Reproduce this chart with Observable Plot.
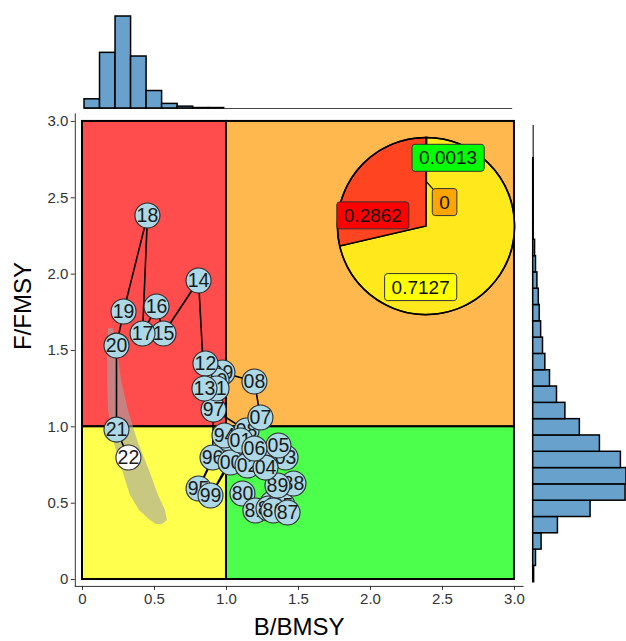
<!DOCTYPE html>
<html><head><meta charset="utf-8">
<script src="https://cdn.jsdelivr.net/npm/d3@7"></script>
<script src="https://cdn.jsdelivr.net/npm/@observablehq/plot@0.6"></script>
<style>
html,body{margin:0;padding:0;background:#fff;}
#wrap{position:relative;width:626px;height:641px;overflow:hidden;}
#wrap svg{position:absolute;left:0;top:0;}
</style></head><body><div id="wrap"></div>
<script>
// ---------- data ----------
const years = ["80","81","82","83","84","85","86","87","88","89",
  "90","91","92","93","94","95","96","97","98","99",
  "00","01","02","03","04","05","06","07","08","09","10","11","12","13","14","15","16","17","18","19","20","21","22"];
const bRatio = [1.111,1.201,1.319,1.292,1.354,1.389,1.326,1.424,1.465,1.354,
  1.250,1.167,1.083,1.014,0.986,0.806,0.903,0.910,1.139,0.889,
  1.028,1.097,1.146,1.410,1.271,1.361,1.194,1.236,1.194,0.972,0.931,0.931,0.854,0.847,0.806,0.5625,0.514,0.417,0.451,0.285,0.236,0.236,0.319];
const fRatio = [0.563,0.452,0.498,0.465,0.472,0.485,0.452,0.439,0.629,0.616,
  0.812,0.812,0.845,0.923,0.943,0.596,0.799,1.113,0.976,0.550,
  0.766,0.910,0.747,0.799,0.733,0.878,0.858,1.061,1.297,1.356,1.303,1.251,1.415,1.251,1.958,1.611,1.788,1.611,2.384,1.755,1.532,0.982,0.799];

// uncertainty band (F, left B, right B)
const bandF     = [1.644,1.500,1.303,1.107,0.910,0.714,0.550,0.452,0.386,0.360];
const bandLeft  = [0.181,0.174,0.174,0.181,0.215,0.278,0.333,0.396,0.472,0.514];
const bandRight = [0.215,0.243,0.271,0.319,0.382,0.465,0.528,0.576,0.590,0.556];

// Kobe quadrants
const quadNames = ["overfished+overfishing","overfishing","overfished","healthy"];
const quadB1 = [0,1,0,1], quadB2 = [1,3,1,3];
const quadF1 = [1,1,0,0], quadF2 = [3,3,1,1];

// pie (probabilities)
const pieLabels = ["0.0013","0","0.7127","0.2862"];
const pieShares = [0.0013,0,0.7127,0.2862];

// marginal histograms
const topCounts = [20,121,200,113,38,10,4,1,1];
const topStart = 0.0139, topBinW = 0.1078, topEnd = 2.988;
const rightCounts = [2,6,18,53,123,198,200,188,143,100,69,51,36,26,21,17,14,12,9,6,4,1,1,1,1,1,0,0];
const rightStart = -0.0177, rightBinW = 0.1068;

const xTicks = [0,0.5,1,1.5,2,2.5,3];
const yTicks = [0,0.5,1,1.5,2,2.5,3];

// ---------- styles / layout ----------
const FONT = "'Liberation Sans', Arial, Helvetica, sans-serif";
const quadColors = ["#ff4d4d","#ffb84d","#ffff4d","#4dff4d"];
const pieSliceColors = ["#33ee33","#ffa500","#ffe81c","#ff4422"];
const pieBoxColors = ["#00ff00","#ffa500","#ffff00","#ff0000"];
const pieCenter = {b: 2.389, f: 2.312}, pieRadiusB = 0.615;
const pieLabelPos = [[0.25,-0.77],[0.21,-0.27],[-0.06,0.69],[-0.60,-0.12]]; // fraction of radius
const pieLeader = [false,true,false,false];
const X = {domain:[-0.05,3.06]}, Y = {domain:[-0.045,3.05]};
const M = {marginLeft:74.8, marginRight:103.4, marginTop:113.3, marginBottom:55.1};

const points = years.map((y,i)=>({year:y, b:bRatio[i], f:fRatio[i], last:i===years.length-1}));
const band = bandF.map((f,i)=>({f, left:bandLeft[i], right:bandRight[i]}));
const quads = quadNames.map((n,i)=>({n, x1:quadB1[i], x2:quadB2[i], y1:quadF1[i], y2:quadF2[i], c:quadColors[i]}));
const fmt = d => d===0 ? "0" : d.toFixed(1);

const wrap = document.getElementById("wrap");

const main = Plot.plot({
  width:626, height:641, ...M,
  x:{...X, ticks:xTicks, tickFormat:fmt, tickSize:4, tickPadding:3, line:true, label:null},
  y:{...Y, ticks:yTicks, tickFormat:fmt, tickSize:4, tickPadding:3, line:true, label:null},
  color:{type:"identity"},
  style:{fontFamily:FONT, fontSize:"15px", color:"#333", background:"white", overflow:"visible"},
  marks:[
    Plot.rect(quads, {x1:"x1", x2:"x2", y1:"y1", y2:"y2", fill:"c", stroke:"black", strokeWidth:2}),
    Plot.areaX(band, {y:"f", x1:"left", x2:"right", fill:"#a4a4a4", fillOpacity:0.6}),
    Plot.line(points, {x:"b", y:"f", stroke:"black", strokeWidth:1.6}),
    ...points.flatMap(d => [
      Plot.dot([d], {x:"b", y:"f", r:12.5, fill: d.last ? "white" : "#add8e6", stroke:"#2a2a2a", strokeWidth:1.1}),
      Plot.text([d], {x:"b", y:"f", text:"year", fontSize:19.5, fill:"#1a1a1a", fontFamily:FONT})
    ]),
    Plot.text(["B/BMSY"], {frameAnchor:"bottom", dy:49, fontSize:24, fill:"black", fontFamily:FONT}),
    Plot.text(["F/FMSY"], {frameAnchor:"left", dx:-52, rotate:-90, fontSize:24, fill:"black", fontFamily:FONT})
  ]
});
wrap.appendChild(main);

// pie inset drawn with the main plot's scales
const sx = main.scale("x"), sy = main.scale("y");
const cx = sx.apply(pieCenter.b), cy = sy.apply(pieCenter.f);
const R = sx.apply(pieCenter.b + pieRadiusB) - cx;
const pieData = pieLabels.map((l,i)=>({label:l, share:pieShares[i], i}));
const arcs = d3.pie().sort(null).value(d=>d.share)(pieData);
const arc = d3.arc().innerRadius(0).outerRadius(R);
const g = d3.select(main).append("g").attr("transform",`translate(${cx},${cy})`);
g.selectAll("path.slice").data(arcs).join("path").attr("class","slice")
  .attr("d",arc).attr("fill",d=>pieSliceColors[d.data.i]).attr("stroke","black").attr("stroke-width",1.5);
g.append("circle").attr("r",R).attr("fill","none").attr("stroke","black").attr("stroke-width",1.5);
arcs.forEach(a=>{
  const i = a.data.i;
  const lx = pieLabelPos[i][0]*R, ly = pieLabelPos[i][1]*R;
  if (pieLeader[i]) {
    const c = d3.arc().innerRadius(0).outerRadius(R).centroid(a);
    g.append("line").attr("x1",c[0]).attr("y1",c[1]).attr("x2",lx).attr("y2",ly).attr("stroke","black").attr("stroke-width",1.2);
  }
  const lab = g.append("g").attr("transform",`translate(${lx},${ly})`);
  const box = lab.append("rect");
  const t = lab.append("text").attr("text-anchor","middle").attr("dy","0.35em")
    .attr("font-family",FONT).attr("font-size",19).attr("fill","#111").text(a.data.label);
  const w = t.node().getComputedTextLength();
  box.attr("x",-w/2-7).attr("y",-13.5).attr("width",w+14).attr("height",27).attr("rx",3)
    .attr("fill",pieBoxColors[i]).attr("stroke","#333").attr("stroke-width",1);
});

// top marginal histogram (B/BMSY)
const topBins = topCounts.map((c,k)=>({x1:topStart+k*topBinW, x2:topStart+(k+1)*topBinW, c})).filter(d=>d.c>0);
const topPlot = Plot.plot({
  width:626, height:110, marginLeft:M.marginLeft, marginRight:M.marginRight, marginTop:16, marginBottom:2,
  x:{...X, axis:null}, y:{domain:[0,200], axis:null},
  style:{background:"transparent", overflow:"visible"},
  marks:[
    Plot.ruleY([0], {x1:topStart, x2:topEnd, stroke:"#444", strokeWidth:1}),
    Plot.rect(topBins, {x1:"x1", x2:"x2", y1:0, y2:"c", fill:"#68a2cc", stroke:"black", strokeWidth:1.5})
  ]
});
wrap.appendChild(topPlot);

// right marginal histogram (F/FMSY)
const rightBins = rightCounts.map((c,k)=>({y1:rightStart+k*rightBinW, y2:rightStart+(k+1)*rightBinW, c})).filter(d=>d.c>0);
const rightPlot = Plot.plot({
  width:626, height:641, marginLeft:532.7, marginRight:0, marginTop:M.marginTop, marginBottom:M.marginBottom,
  x:{domain:[0,200], axis:null}, y:{...Y, axis:null},
  style:{background:"transparent", overflow:"visible"},
  marks:[
    Plot.ruleX([0], {y1:rightStart, y2:rightStart+rightCounts.length*rightBinW, stroke:"#222", strokeWidth:1.2}),
    Plot.rect(rightBins, {y1:"y1", y2:"y2", x1:0, x2:"c", fill:"#68a2cc", stroke:"black", strokeWidth:1.5})
  ]
});
wrap.appendChild(rightPlot);
</script>
</body></html>
